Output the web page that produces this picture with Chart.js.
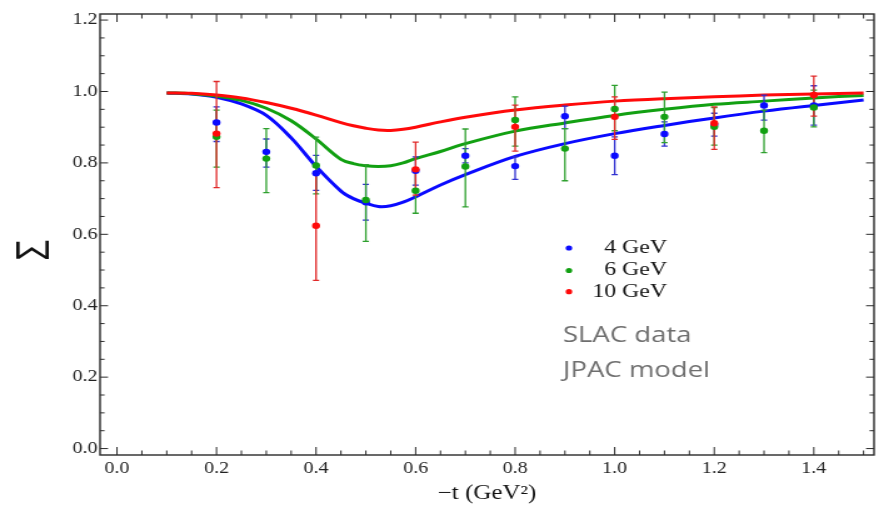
<!DOCTYPE html>
<html><head><meta charset="utf-8">
<script src="https://cdn.jsdelivr.net/npm/chart.js@4.4.1/dist/chart.umd.min.js"></script>
<style>
html,body{margin:0;padding:0;background:#fff;overflow:hidden;width:879px;height:512px;}
#wrap{transform:scaleX(1.2504);transform-origin:0 0;width:703px;height:512px;}
canvas{display:block;}
</style></head><body>
<div id="wrap"><canvas id="c" width="703" height="512"></canvas></div>
<script>
// ---- data ----
const seriesLabels = ['4 GeV', '6 GeV', '10 GeV'];
const xTickValues = [0.0,0.2,0.4,0.6,0.8,1.0,1.2,1.4];
const xTickLabels = ['0.0','0.2','0.4','0.6','0.8','1.0','1.2','1.4'];
const yTickValues = [0.0,0.2,0.4,0.6,0.8,1.0,1.2];
const yTickLabels = ['0.0','0.2','0.4','0.6','0.8','1.0','1.2'];

// SLAC data points: -t values, Sigma values, error-bar low / high
const blueT  = [0.2,0.3,0.4,0.5,0.6,0.7,0.8,0.9,1.0,1.1,1.2,1.3,1.4];
const blueW  = [0.913,0.831,0.771,0.690,0.778,0.820,0.791,0.931,0.820,0.881,0.907,0.961,0.961];
const blueLo = [0.860,0.788,0.723,0.640,0.738,0.800,0.754,0.896,0.767,0.847,0.875,0.920,0.906];
const blueHi = [0.957,0.867,0.821,0.740,0.817,0.840,0.817,0.959,0.873,0.915,0.939,0.990,1.016];

const greenT  = [0.2,0.3,0.4,0.5,0.6,0.7,0.8,0.9,1.0,1.1,1.2,1.3,1.4];
const greenW  = [0.873,0.812,0.793,0.696,0.722,0.790,0.920,0.840,0.951,0.929,0.901,0.890,0.955];
const greenLo = [0.788,0.717,0.713,0.580,0.659,0.677,0.847,0.750,0.890,0.857,0.850,0.829,0.901];
const greenHi = [0.948,0.896,0.872,0.795,0.785,0.895,0.985,0.896,1.017,0.998,0.955,0.948,1.004];

const redT  = [0.2,0.4,0.6,0.8,1.0,1.2,1.4];
const redW  = [0.882,0.624,0.782,0.901,0.929,0.911,0.990];
const redLo = [0.731,0.471,0.710,0.833,0.866,0.838,0.931];
const redHi = [1.028,0.775,0.858,0.962,0.985,0.957,1.043];

// JPAC model curves
const curveT = [0.1,0.15,0.2,0.25,0.3,0.35,0.4,0.45,0.475,0.5,0.525,0.55,0.575,0.6,0.65,0.7,0.8,0.9,1.0,1.1,1.2,1.3,1.4,1.5];
const blueC  = [0.996,0.993,0.984,0.965,0.933,0.870,0.790,0.721,0.700,0.687,0.678,0.680,0.690,0.705,0.738,0.767,0.818,0.854,0.882,0.905,0.926,0.945,0.961,0.976];
const greenC = [0.996,0.994,0.987,0.975,0.953,0.918,0.867,0.810,0.798,0.792,0.790,0.792,0.800,0.812,0.832,0.854,0.889,0.912,0.933,0.950,0.964,0.973,0.982,0.989];
const redC   = [0.996,0.995,0.990,0.982,0.969,0.953,0.934,0.913,0.904,0.897,0.892,0.891,0.894,0.900,0.915,0.928,0.948,0.962,0.973,0.980,0.985,0.990,0.993,0.996];

// ---- styling ----
const BLUE = '#0a0aff', GREEN = '#12a012', RED = '#ff0a0a';
const BAR_BLUE = '#3030d0', BAR_GREEN = '#2ea02e', BAR_RED = '#e02828';
const SERIF = '"Liberation Serif", "Times New Roman", serif';
const SANS = '"Open Sans", Lato, sans-serif';
const MINOR_STEP = 0.05;

const pts = (ts, ws) => ts.map((t, i) => ({x: t, y: ws[i]}));

function drawBars(chart, ts, lo, hi, color) {
  const xs = chart.scales.x, ys = chart.scales.y, ctx = chart.ctx;
  ctx.save();
  ctx.strokeStyle = color; ctx.lineWidth = 1.3;
  ts.forEach((t, i) => {
    const px = xs.getPixelForValue(t);
    const a = ys.getPixelForValue(lo[i]), b = ys.getPixelForValue(hi[i]);
    ctx.beginPath();
    ctx.moveTo(px, a); ctx.lineTo(px, b);
    ctx.moveTo(px - 2.5, a); ctx.lineTo(px + 2.5, a);
    ctx.moveTo(px - 2.5, b); ctx.lineTo(px + 2.5, b);
    ctx.stroke();
  });
  ctx.restore();
}

const deco = {
  id: 'deco',
  afterDatasetDraw(chart, args) {
    if (args.index !== 3) return;
    drawBars(chart, blueT, blueLo, blueHi, BAR_BLUE);
    drawBars(chart, greenT, greenLo, greenHi, BAR_GREEN);
    drawBars(chart, redT, redLo, redHi, BAR_RED);
  },
  afterDraw(chart) {
    const ctx = chart.ctx, ca = chart.chartArea, xs = chart.scales.x, ys = chart.scales.y;
    ctx.save();
    // frame
    ctx.strokeStyle = '#2a2a2a'; ctx.lineWidth = 1.4;
    ctx.strokeRect(ca.left, ca.top, ca.right - ca.left, ca.bottom - ca.top);
    ctx.lineWidth = 1;
    ctx.beginPath();
    for (let k = 0; k * MINOR_STEP <= 1.5 + 1e-9; k++) {
      const px = xs.getPixelForValue(k * MINOR_STEP);
      const L = (k % 4 === 0) ? 8 : 4.5;
      ctx.moveTo(px, ca.bottom); ctx.lineTo(px, ca.bottom - L);
      ctx.moveTo(px, ca.top); ctx.lineTo(px, ca.top + L);
    }
    for (let k = 0; k * MINOR_STEP <= 1.2 + 1e-9; k++) {
      const py = ys.getPixelForValue(k * MINOR_STEP);
      const L = (k % 4 === 0) ? 6.4 : 3.6;
      ctx.moveTo(ca.left, py); ctx.lineTo(ca.left + L, py);
      ctx.moveTo(ca.right, py); ctx.lineTo(ca.right - L, py);
    }
    ctx.stroke();

    // y-axis symbol
    ctx.save();
    ctx.translate(39.2, 250);
    ctx.rotate(-Math.PI / 2);
    ctx.fillStyle = '#111';
    ctx.font = '36px ' + SANS;
    ctx.textAlign = 'center'; ctx.textBaseline = 'alphabetic';
    ctx.fillText('Σ', 0, 0);
    ctx.restore();

    // legend
    const legColors = [BLUE, GREEN, RED];
    const legY = [248, 270.5, 291.7];
    ctx.font = '19px ' + SERIF;
    ctx.textAlign = 'right'; ctx.textBaseline = 'middle';
    seriesLabels.forEach((lab, i) => {
      ctx.fillStyle = legColors[i];
      ctx.beginPath(); ctx.arc(455, legY[i], 2.6, 0, Math.PI * 2); ctx.fill();
      ctx.fillStyle = '#111';
      ctx.fillText(lab, 533.4, legY[i]);
    });

    // annotations
    ctx.font = '22px ' + SANS;
    ctx.fillStyle = '#6e6e6e';
    ctx.textAlign = 'left'; ctx.textBaseline = 'alphabetic';
    ctx.fillText('SLAC data', 450.3, 341.7);
    ctx.fillText('JPAC model', 450.3, 376.7);
    ctx.restore();
  }
};

const pointDs = (label, ts, ws, color) => ({
  label, data: pts(ts, ws), showLine: false,
  pointRadius: 3.2, pointBackgroundColor: color, pointBorderColor: color, pointBorderWidth: 0
});
const curveDs = (label, ws, color) => ({
  label, data: pts(curveT, ws), showLine: true, borderColor: color, borderWidth: 3,
  pointRadius: 0, tension: 0.35, fill: false
});

new Chart(document.getElementById('c'), {
  type: 'scatter',
  data: {
    datasets: [
      pointDs(seriesLabels[2], redT, redW, RED),
      pointDs(seriesLabels[1], greenT, greenW, GREEN),
      pointDs(seriesLabels[0], blueT, blueW, BLUE),
      curveDs('model ' + seriesLabels[2], redC, RED),
      curveDs('model ' + seriesLabels[1], greenC, GREEN),
      curveDs('model ' + seriesLabels[0], blueC, BLUE)
    ]
  },
  options: {
    responsive: false, animation: false, devicePixelRatio: 1,
    layout: {padding: {top: 14, right: 1.2, left: 0, bottom: 0}},
    plugins: {legend: {display: false}, tooltip: {enabled: false}},
    scales: {
      x: {
        type: 'linear', bounds: 'data', min: -0.034, max: 1.521,
        grid: {display: false, drawTicks: false}, border: {display: false},
        afterBuildTicks(s) { s.ticks = xTickValues.map(v => ({value: v})); },
        ticks: {padding: 4, maxRotation: 0, autoSkip: false,
          font: {family: SERIF, size: 16}, color: '#222',
          callback: (v, i) => xTickLabels[i]},
        title: {display: true, text: '−t (GeV²)', font: {family: SERIF, size: 20}, color: '#111',
          padding: {top: 0, bottom: 6}},
        afterFit(s) { s.height = 57; }
      },
      y: {
        type: 'linear', bounds: 'data', min: -0.018, max: 1.217,
        grid: {display: false, drawTicks: false}, border: {display: false},
        afterBuildTicks(s) { s.ticks = yTickValues.map(v => ({value: v})); },
        ticks: {padding: 2, autoSkip: false,
          font: {family: SERIF, size: 16}, color: '#222',
          callback: (v, i) => yTickLabels[i]},
        afterFit(s) { s.width = 80; }
      }
    }
  },
  plugins: [deco]
});
</script></body></html>
